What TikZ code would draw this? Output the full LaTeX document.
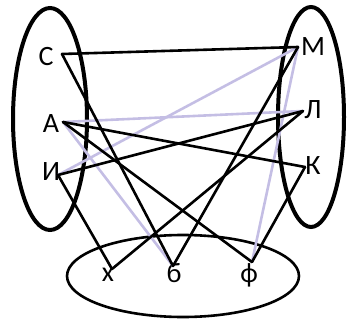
\documentclass[tikz,border=0pt]{standalone}
\usepackage{fontspec}
\setmainfont{Carlito}
\definecolor{lav}{RGB}{196,190,228}
\tikzset{
  lbl/.style={inner sep=0pt, font=\fontsize{28}{30}\selectfont},
  blk/.style={draw=black, line width=2.6pt, line cap=round, line join=round},
  lv/.style={draw=lav, line width=2.6pt, line cap=round},
  grp/.style={draw=black, line width=4pt},
  grpb/.style={draw=black, line width=2.6pt}
}
\begin{document}
\begin{tikzpicture}[x=1pt,y=-1pt]
\useasboundingbox (0,0) rectangle (347,320);
% group ellipses
\draw[grp] (50,119) ellipse [x radius=37, y radius=111];
\draw[grp] (311,117) ellipse [x radius=33, y radius=110];
\draw[grpb] (183,276) ellipse [x radius=116, y radius=41];
% labels
\node[lbl] (C) at (46,57) {С};
\node[lbl] (A) at (51,124) {А};
\node[lbl] (I) at (51,172) {И};
\node[lbl] (M) at (313,47) {М};
\node[lbl] (L) at (313,110) {Л};
\node[lbl] (K) at (313,166) {К};
\node[lbl] (X) at (108,275) {х};
\node[lbl] (B) at (174,273) {б};
\node[lbl] (F) at (249,275) {ф};
% attachment points
\coordinate (pC) at (62,54);
\coordinate (pA) at (63,122);
\coordinate (pI) at (58,175);
\coordinate (pM) at (298,47);
\coordinate (pL) at (303,111);
\coordinate (pK) at (305,167);
\coordinate (pX) at (112,269);
\coordinate (pB) at (173,266);
\coordinate (pF) at (252,262);
% lavender connectors
\draw[lv] (pA) -- (pL);
\draw[lv] (pA) -- (pB);
\draw[lv] (pI) -- (pM);
\draw[lv] (pM) -- (pF);
% black connectors
\draw[blk] (pC) -- (pM);
\draw[blk] (pC) -- (pB);
\draw[blk] (pA) -- (pK);
\draw[blk] (pA) -- (pF);
\draw[blk] (pI) -- (pL);
\draw[blk] (pI) -- (pX);
\draw[blk] (pM) -- (pB);
\draw[blk] (pL) -- (pX);
\draw[blk] (pK) -- (pF);
\end{tikzpicture}
\end{document}
